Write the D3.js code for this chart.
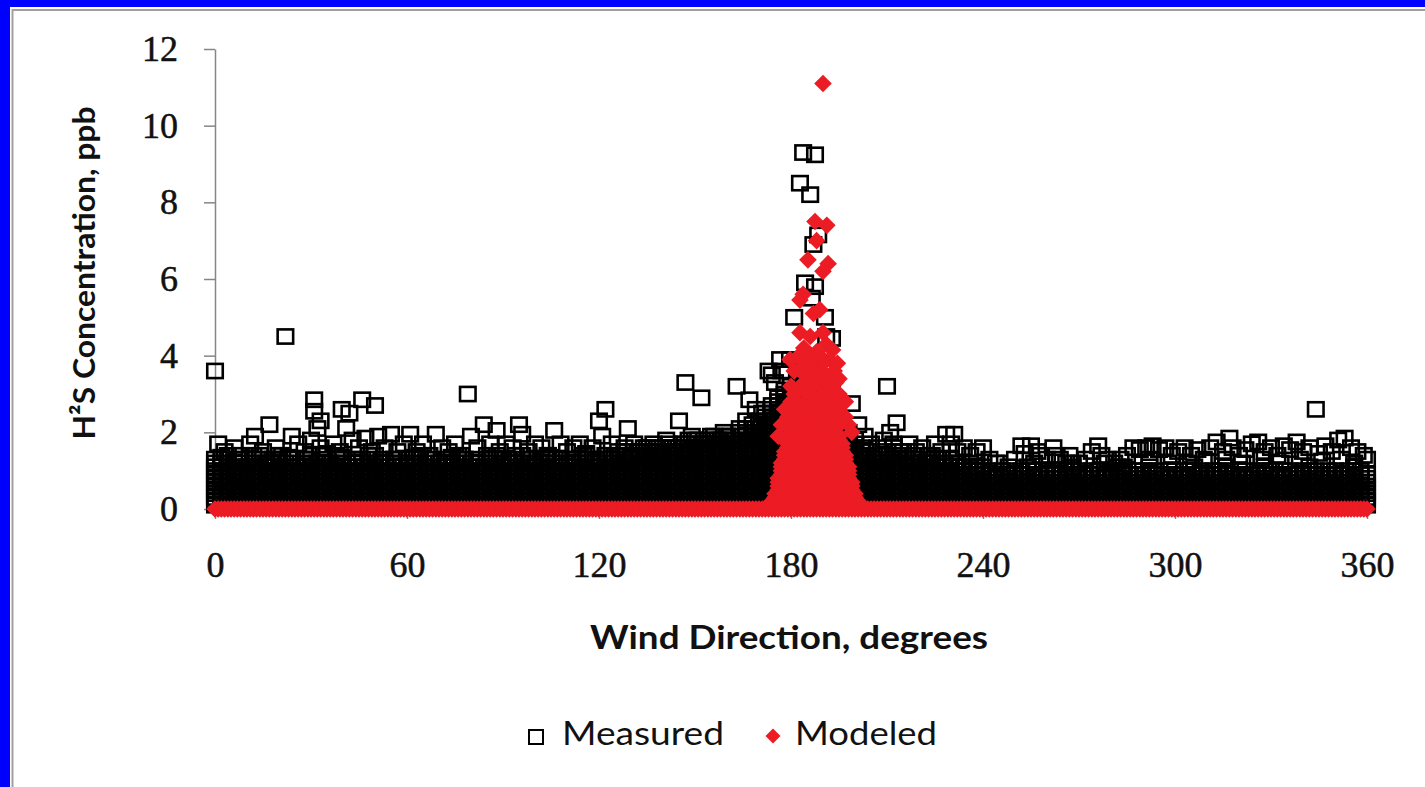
<!DOCTYPE html>
<html>
<head>
<meta charset="utf-8">
<script src="https://cdn.jsdelivr.net/npm/d3@7"></script>
<style>
  body { margin: 0; background: #fff; overflow: hidden; }
  svg { display: block; }
</style>
</head>
<body>
<svg id="chart" width="1425" height="787"></svg>
<script>
// ---- data ----
var xTicks = [0, 60, 120, 180, 240, 300, 360];
var yTicks = [0, 2, 4, 6, 8, 10, 12];

// the readings come in 0.1 ppb steps
var concLevels = [0.1,0.2,0.3,0.4,0.5,0.6,0.7,0.8,0.9,1.0,1.1,1.2,1.3,1.4,1.5,1.6,1.7,
                  1.8,1.9,2.0,2.1,2.2,2.3,2.4,2.5,2.6,2.7,2.8,2.9,3.0,3.1,3.2,3.3];

// measured: solid black band, one column every 2 degrees, filled up to its top value
var measDirs = d3.range(0, 361, 2);
var measTop = [
  1.3,1.2,1.4,1.2,1.3,1.1,1.3,1.4,1.2,1.3,   // 0-18
  1.4,1.2,1.3,1.1,1.3,1.4,1.2,1.3,1.2,1.4,   // 20-38
  1.3,1.1,1.2,1.3,1.4,1.2,1.3,1.1,1.3,1.2,   // 40-58
  1.3,1.2,1.4,1.3,1.1,1.2,1.3,1.2,1.4,1.3,   // 60-78
  1.2,1.3,1.1,1.3,1.4,1.2,1.3,1.2,1.4,1.3,   // 80-98
  1.2,1.3,1.4,1.2,1.3,1.1,1.3,1.2,1.4,1.3,   // 100-118
  1.3,1.4,1.3,1.4,1.5,1.4,1.5,1.6,1.5,1.6,   // 120-138
  1.6,1.7,1.6,1.7,1.8,1.8,1.7,1.8,1.9,1.8,   // 140-158
  1.9,1.8,2.0,2.1,2.2,2.3,2.5,2.7,2.9,3.1,   // 160-178
  3.2,3.3,3.2,3.0,3.1,2.9,2.7,2.4,2.2,2.0,   // 180-198
  1.8,1.6,1.5,1.4,1.5,1.4,1.6,1.5,1.3,1.4,   // 200-218
  1.3,1.2,1.4,1.3,1.2,1.3,1.2,1.1,1.2,1.1,   // 220-238
  1.1,1.0,0.9,1.0,1.0,0.9,1.0,1.1,1.0,0.9,   // 240-258
  1.0,1.0,0.9,1.0,1.1,1.0,0.9,1.0,1.0,0.9,   // 260-278
  1.0,1.1,1.0,0.9,1.0,1.0,1.1,1.0,0.9,1.0,   // 280-298
  1.0,0.9,1.0,1.1,1.0,0.9,1.0,1.0,1.1,0.9,   // 300-318
  1.0,1.0,0.9,1.0,1.1,1.0,0.9,1.0,1.0,0.9,   // 320-338
  1.0,1.1,1.0,0.9,1.0,1.0,0.9,1.0,1.1,1.0,   // 340-358
  0.9                                        // 360
];

// measured: single squares above the solid band [direction, ppb]
var measScatter = [
  [0,3.6],[22,4.5],[1,1.7],[2,1.35],[3,1.5],[6,1.6],[7,1.3],[8,1.4],[11,1.7],[12,1.4],[12.5,1.9],
  [15,1.5],[17,2.2],[18,1.3],[19,1.6],[21,1.4],[23,1.35],[24,1.9],[26,1.7],[28,1.5],[29,1.3],
  [30,1.8],[31,2.85],[31,2.55],[32,2.1],[33,2.3],[33,1.6],[34,1.4],[35,1.45],[37,1.7],[39,1.5],
  [39.6,2.6],[40,1.35],[41,2.1],[42,2.5],[43,1.8],[44,1.3],[45,1.6],[46,2.85],[47,1.85],[49,1.5],
  [50,2.7],[50,1.4],[51,1.9],[53,1.6],[55,1.95],[56,1.3],[57,1.5],[59,1.7],
  [61,1.95],[62,1.35],[63,1.5],[65,1.7],[67,1.4],[68,1.3],[69,1.95],[71,1.6],[73,1.5],[74,1.35],
  [75,1.7],[77,1.4],[78,1.3],[79,3.0],[80,1.9],[82,1.6],[84,2.2],[85,1.4],[86,1.7],[88,2.05],
  [89,1.5],[90,1.3],[91,1.7],[93,1.6],[94,1.4],[95,2.2],[96,1.95],[98,1.5],[99,1.3],[100,1.7],
  [102,1.6],[104,1.4],[105,1.35],[106,2.05],[108,1.7],[110,1.5],[111,1.3],[112,1.6],[114,1.7],
  [115,1.4],[116,1.45],[118,1.6],[119,1.3],
  [120,2.3],[121,1.9],[122,2.6],[124,1.7],[125,1.4],[126,1.5],[128,1.6],[129,2.1],[130,1.35],
  [131,1.7],[133,1.5],[135,1.6],[136,1.3],[137,1.7],[139,1.5],[140,1.4],[141,1.8],[143,1.6],
  [145,2.3],[146,1.5],[147,3.3],[149,1.9],[150,1.6],[151,1.8],[152,2.9],[153,1.7],[155,1.9],
  [156,1.6],[157,1.8],[159,2.0],[160,1.9],[161,1.9],[163,3.2],[164,2.1],[166,2.3],[167,2.85],
  [169,2.6],[171,2.5],[173,3.6],[174,3.5],[175,3.3],[176.6,3.9],[177,3.6],
  [179.7,3.9],[181,5.0],[182,3.6],[182.8,8.5],[183.8,9.3],[184.4,5.9],[186,8.2],[186.5,5.5],
  [187,6.9],[187.5,9.24],[187.5,5.8],[188.5,7.15],[190.6,5.0],[191,4.5],[192.8,4.45],[192.8,3.4],
  [199,2.75],
  [201,2.2],[203,1.9],[205,1.7],[207,1.6],[209,1.8],[210,3.2],[211,2.0],[212,1.7],[213,2.25],
  [215,1.5],[217,1.7],[219,1.5],[221,1.6],[223,1.4],[225,1.7],[227,1.5],[228.5,1.95],[230,1.7],
  [231,1.95],[232,1.5],[234,1.6],[236,1.4],[238,1.5],[240,1.6],
  [242,1.3],[244,1.2],[245,1.2],[248,1.1],[250,1.3],[252,1.65],[253,1.45],[255,1.65],[256,1.2],
  [257,1.5],[258,1.4],[260,1.3],[262,1.6],[263,1.4],[264,1.3],[266,1.2],[267,1.4],[268,1.2],
  [270,1.2],[272,1.3],[274,1.5],[276,1.65],[277,1.4],[278,1.2],[279,1.3],[281,1.2],[283,1.3],
  [284,1.1],[285,1.4],[287,1.6],[289,1.55],[291,1.6],[292,1.3],[293,1.65],[295,1.55],[297,1.6],
  [298,1.2],[299,1.4],
  [301,1.5],[303,1.6],[304,1.2],[305,1.4],[307,1.55],[309,1.3],[310,1.25],[311,1.6],[313,1.75],
  [315,1.5],[316,1.3],[317,1.85],[318,1.6],[320,1.4],[321,1.2],[322,1.55],[324,1.7],[326,1.75],
  [327,1.3],[328,1.5],[330,1.6],[332,1.4],[333,1.2],[334,1.65],[336,1.55],[338,1.75],[339,1.3],
  [340,1.5],[342,1.6],[344,2.6],[345,1.45],[346,1.25],[347,1.65],[349,1.5],[351,1.8],[352,1.3],
  [353,1.85],[355,1.6],[356,1.2],[357,1.5],[359,1.4],[360,1.3]
];

// modeled: zero at every degree
var modZeroDirs = d3.range(0, 361, 1);
// modeled plume: solid red, one column per degree (174-201), filled up to its top value
var plumeDirs = d3.range(174, 202, 1);
var plumeTop = [0.2,0.4,0.8,1.2,1.5,1.9,2.2,2.3,2.4,2.3,2.4,2.5,2.6,2.5,2.4,2.5,2.4,2.3,2.2,2.3,
                2.1,1.9,1.7,1.4,1.1,0.7,0.4,0.2];
// modeled: single diamonds above the plume [direction, ppb]
var modScatter = [
  [190,11.1],[187.5,7.5],[191.2,7.4],[188,7.0],[185.3,6.5],[191.6,6.4],[190,6.2],[183.8,5.6],
  [182.8,5.45],[187,5.1],[189,5.2],[182.8,4.6],[186,4.5],[191,4.3],[193,4.15],[179.7,3.9],
  [181,3.6],[182.5,4.0],[184,3.8],[185.5,3.5],[187,3.9],[188.5,3.7],[190,3.4],[192,3.9],
  [193.5,3.6],[194.5,3.8],[183,3.2],[186,3.0],[189,2.9],[191,3.1],[195,3.0],[196,2.85],
  [194,2.6],[180,2.8],[178,2.6],[184,2.7],[197,2.4],[198,2.2],[181,2.5],[185,2.6],[188,2.5],
  [192,2.6],[196,2.3],
  [180,3.2],[181,3.0],[182,2.8],[183,3.6],[184,3.3],[185,3.0],[186,3.4],[187,3.2],[187,2.8],
  [188,3.3],[189,3.5],[189,4.0],[190,3.0],[190,3.8],[191,3.5],[192,3.2],[193,3.0],[193,2.8],
  [194,3.3],[195,3.4],[186,3.8],[184,4.2],[188,4.1],[190,4.6],[185,4.0],[183,2.5],[191,2.7],
  [195,2.6],[197,2.8],[199,2.0],[177,2.2],[176,1.9],[179,2.4]
];

// ---- build point lists ----
var measured = [];
measDirs.forEach(function(d, i){
  concLevels.forEach(function(c){
    if (c <= measTop[i] + 1e-9) measured.push([d, c]);
  });
});
measured = measured.concat(measScatter);

var modeled = modZeroDirs.map(function(d){ return [d, 0]; });
plumeDirs.forEach(function(d, i){
  concLevels.forEach(function(c){
    if (c <= plumeTop[i] + 1e-9) modeled.push([d, c]);
  });
});
modeled = modeled.concat(modScatter);

// ---- chart ----
var svg = d3.select("#chart");
var red = "#ec1c24";

// blue slide frame (top and left only) and grey chart border
svg.append("rect").attr("x", 0).attr("y", 0).attr("width", 1425).attr("height", 7).attr("fill", "#0000ff");
svg.append("rect").attr("x", 0).attr("y", 0).attr("width", 10).attr("height", 787).attr("fill", "#0000ff");
svg.append("path").attr("d", "M12.5,787 V10 H1425")
  .attr("fill", "none").attr("stroke", "#a0a0a0").attr("stroke-width", 2);

var x = d3.scaleLinear().domain([0, 360]).range([215, 1367]);
var y = d3.scaleLinear().domain([0, 12]).range([509, 49]);

var tickFont = "'Liberation Serif', 'Times New Roman', serif";

var gy = svg.append("g").attr("transform", "translate(215,0)")
  .call(d3.axisLeft(y).tickValues(yTicks).tickSize(11).tickSizeOuter(0).tickPadding(26));
var gx = svg.append("g").attr("transform", "translate(0,509)")
  .call(d3.axisBottom(x).tickValues(xTicks).tickSize(10).tickSizeOuter(0).tickPadding(32));

[gy, gx].forEach(function(g){
  g.select(".domain").attr("stroke", "#868686").attr("stroke-width", 1.5);
  g.selectAll(".tick line").attr("stroke", "#868686").attr("stroke-width", 1.5);
  g.selectAll(".tick text").attr("fill", "#111").attr("stroke", "#111").attr("stroke-width", 0.5)
    .style("font-family", tickFont).style("font-size", "36px");
});

// measured squares
svg.append("g").selectAll("rect").data(measured).enter().append("rect")
  .attr("x", function(d){ return x(d[0]) - 7.75; })
  .attr("y", function(d){ return y(d[1]) - 7.1; })
  .attr("width", 15.5).attr("height", 14.2)
  .attr("fill", "none").attr("stroke", "#000").attr("stroke-width", 2.6);

// modeled diamonds
var diamond = "M0,-8.8L8.8,0L0,8.8L-8.8,0Z";
svg.append("g").selectAll("path").data(modeled).enter().append("path")
  .attr("d", diamond)
  .attr("transform", function(d){ return "translate(" + x(d[0]) + "," + y(d[1]) + ")"; })
  .attr("fill", red);

// axis titles
var titleFont = "Lato, 'Open Sans', sans-serif";
svg.append("text").attr("x", 789).attr("y", 649).attr("text-anchor", "middle")
  .attr("textLength", 398).attr("lengthAdjust", "spacingAndGlyphs")
  .style("font-family", titleFont).style("font-weight", "bold").style("font-size", "32px")
  .attr("fill", "#111").text("Wind Direction, degrees");

svg.append("text").attr("transform", "translate(95,273) rotate(-90)").attr("text-anchor", "middle")
  .attr("textLength", 333).attr("lengthAdjust", "spacingAndGlyphs")
  .style("font-family", titleFont).style("font-weight", "bold").style("font-size", "31px")
  .attr("fill", "#111").text("H²S Concentration, ppb");

// legend
var lg = svg.append("g");
lg.append("rect").attr("x", 529).attr("y", 730).attr("width", 14).attr("height", 14)
  .attr("fill", "none").attr("stroke", "#000").attr("stroke-width", 2);
lg.append("text").attr("x", 562).attr("y", 745).attr("textLength", 162)
  .attr("lengthAdjust", "spacingAndGlyphs")
  .style("font-family", titleFont).style("font-size", "32px").attr("fill", "#111").text("Measured");
lg.append("path").attr("d", "M0,-7.5L7.5,0L0,7.5L-7.5,0Z")
  .attr("transform", "translate(773,736)").attr("fill", red);
lg.append("text").attr("x", 795).attr("y", 745).attr("textLength", 142)
  .attr("lengthAdjust", "spacingAndGlyphs")
  .style("font-family", titleFont).style("font-size", "32px").attr("fill", "#111").text("Modeled");
</script>
</body>
</html>
